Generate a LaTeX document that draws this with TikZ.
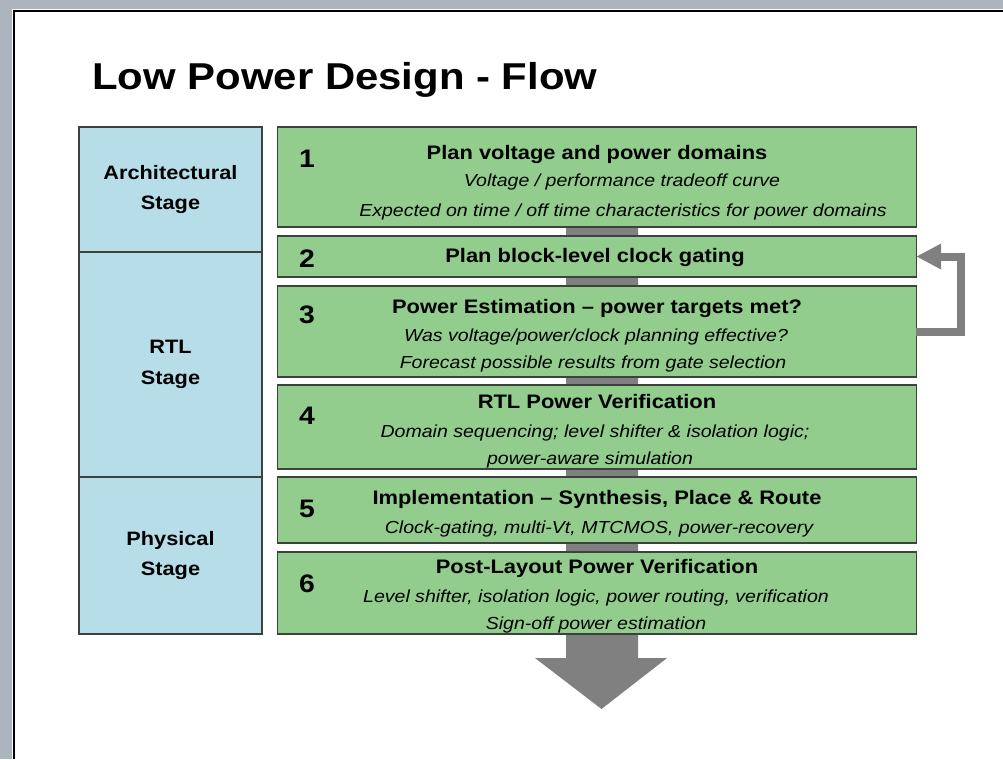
\documentclass[tikz,border=0pt]{standalone}
\usepackage{fontspec}
\setmainfont{Liberation Sans}[FakeStretch=1.12]
\usetikzlibrary{arrows.meta}
\definecolor{boxgreen}{RGB}{146,205,141}
\definecolor{stageblue}{RGB}{183,221,232}
\definecolor{flowgray}{RGB}{128,128,128}
\definecolor{edgegray}{RGB}{60,66,60}
\definecolor{shadegray}{RGB}{172,180,190}

\begin{document}
\begin{tikzpicture}[x=0.025cm,y=-0.025cm,
		greenbox/.style={draw=edgegray,fill=boxgreen,line width=0.8pt,minimum width=15.95cm,inner sep=0,outer sep=0},
		stagebox/.style={draw=edgegray,fill=stageblue,line width=0.8pt,minimum width=4.575cm,inner sep=0,outer sep=0,
			align=center,font=\bfseries\fontsize{13.8}{22}\selectfont},
		head/.style={anchor=base,inner sep=0,font=\bfseries\fontsize{13.9}{16}\selectfont},
		sub/.style={anchor=base,inner sep=0,font=\itshape\fontsize{12.4}{15}\selectfont},
		num/.style={anchor=base,inner sep=0,font=\bfseries\fontsize{18}{20}\selectfont}]
		\useasboundingbox (0,0) rectangle (1003,759);
		% frame of the slide
		\fill[shadegray] (0,0) rectangle (1003,9);
		\fill[shadegray] (0,0) rectangle (12,759);
		\draw[line width=2pt] (14,759) -- (14,11) -- (1003,11);
		
		\node[anchor=base west,inner sep=0,font=\bfseries\fontsize{26.6}{30}\selectfont] (title) at (92,89) {Low Power Design - Flow};
		
		% big arrow behind the steps
		\fill[flowgray] (566,227) -- (638,227) -- (638,658) -- (667,658) -- (601.5,709) -- (535,658) -- (566,658) -- cycle;
		
		% stages
		\node[stagebox,minimum height=3.125cm] (s1) at (170.5,189.5) {Architectural\\Stage};
		\node[stagebox,minimum height=5.625cm] (s2) at (170.5,364.5) {RTL\\Stage};
		\node[stagebox,minimum height=3.925cm] (s3) at (170.5,555.5) {Physical\\Stage};
		
		% steps
		\node[greenbox,minimum height=2.5cm] (b1) at (597,177) {};
		\node[greenbox,minimum height=1.025cm] (b2) at (597,256.5) {};
		\node[greenbox,minimum height=2.275cm] (b3) at (597,331.5) {};
		\node[greenbox,minimum height=2.1cm] (b4) at (597,427) {};
		\node[greenbox,minimum height=1.65cm] (b5) at (597,510) {};
		\node[greenbox,minimum height=2.05cm] (b6) at (597,593) {};
		
		\node[num] (n1) at (307,167) {1};
		\node[num] (n2) at (307,267) {2};
		\node[num] (n3) at (307,323) {3};
		\node[num] (n4) at (307,424) {4};
		\node[num] (n5) at (307,517) {5};
		\node[num] (n6) at (307,592) {6};
		
		\node[head] (h1) at (597,159) {Plan voltage and power domains};
		\node[sub] (t1a) at (622,186) {Voltage / performance tradeoff curve};
		\node[sub] (t1b) at (623,216) {Expected on time / off time characteristics for power domains};
		
		\node[head] (h2) at (595,262) {Plan block-level clock gating};
		
		\node[head] (h3) at (597,313) {Power Estimation -- power targets met?};
		\node[sub] (t3a) at (596,341) {Was voltage/power/clock planning effective?};
		\node[sub] (t3b) at (593,368) {Forecast possible results from gate selection};
		
		\node[head] (h4) at (597,408) {RTL Power Verification};
		\node[sub] (t4a) at (595,437) {Domain sequencing; level shifter \& isolation logic;};
		\node[sub] (t4b) at (590,464) {power-aware simulation};
		
		\node[head] (h5) at (597,504) {Implementation -- Synthesis, Place \& Route};
		\node[sub] (t5a) at (599,533) {Clock-gating, multi-Vt, MTCMOS, power-recovery};
		
		\node[head] (h6) at (597,573) {Post-Layout Power Verification};
		\node[sub] (t6a) at (596,602) {Level shifter, isolation logic, power routing, verification};
		\node[sub] (t6b) at (596,629) {Sign-off power estimation};
		
		% loop back from step 3 to step 2
		\draw[flowgray,line width=5.7pt,-{Triangle[length=0.625cm,width=0.6cm]}] (b3.east) -- ++(45,0) |- (b2.east);
	\end{tikzpicture}
\end{document}
